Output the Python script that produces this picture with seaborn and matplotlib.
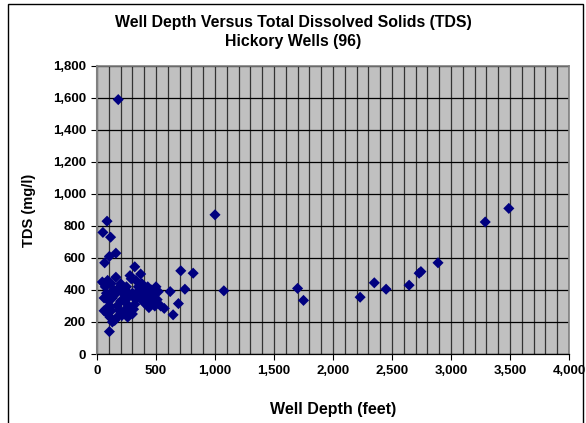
import matplotlib
matplotlib.use("Agg")
import matplotlib.pyplot as plt
import seaborn as sns
import pandas as pd
from matplotlib.ticker import MultipleLocator, FuncFormatter
from matplotlib.patches import Rectangle

depth = [180, 85, 50, 115, 160, 105, 65, 320, 370, 280, 160, 710, 815, 620, 745, 690, 645, 570, 105,
         1000, 1075, 1700, 1750, 2230, 2350, 2450, 2645, 2730, 2745, 2890, 3290, 3490,
         60, 70, 45, 90, 120, 140, 60, 80, 100, 110, 75, 60, 90, 110, 130, 150, 170, 190, 130, 150,
         170, 200, 220, 240, 260, 270, 280, 300, 310, 320, 330, 340, 350, 360, 380, 390, 400, 410,
         420, 430, 440, 450, 460, 470, 480, 490, 500, 510, 520, 540, 250, 230, 210, 180, 200, 290,
         330, 260, 380, 300, 440, 400, 230, 120]
tds = [1590, 830, 760, 730, 630, 610, 570, 545, 500, 490, 480, 520, 505, 390, 405, 315, 245, 285, 140,
       870, 395, 410, 335, 355, 445, 405, 430, 505, 515, 570, 825, 910,
       440, 420, 450, 460, 440, 400, 350, 380, 330, 300, 280, 270, 250, 230, 200, 210, 230, 270, 350, 370,
       300, 330, 380, 400, 350, 300, 260, 250, 280, 310, 340, 380, 420, 400, 360, 330, 390, 410,
       370, 420, 350, 380, 400, 330, 360, 300, 420, 340, 390, 300, 420, 270, 240, 410, 440, 470,
       460, 230, 440, 380, 290, 320, 330, 270]

title = "Well Depth Versus Total Dissolved Solids (TDS)\nHickory Wells (96)"
xlabel = "Well Depth (feet)"
ylabel = "TDS (mg/l)"

df = pd.DataFrame({"depth": depth, "tds": tds})

sns.set_theme(style="white")
plt.rcParams['font.family'] = ['Liberation Sans', 'DejaVu Sans']
plt.rcParams['text.color'] = 'black'
plt.rcParams['axes.labelcolor'] = 'black'
plt.rcParams['xtick.color'] = 'black'
plt.rcParams['ytick.color'] = 'black'

fig = plt.figure(figsize=(5.86, 4.23), dpi=100)
ax = fig.add_axes([97/586, 1 - 354/423, (569 - 97)/586, (354 - 66)/423])
ax.set_facecolor("#C0C0C0")

ax.set_xlim(0, 4000)
ax.set_ylim(0, 1800)
ax.xaxis.set_major_locator(MultipleLocator(500))
ax.xaxis.set_minor_locator(MultipleLocator(100))
ax.yaxis.set_major_locator(MultipleLocator(200))
ax.grid(True, which="minor", axis="x", color="#333333", linewidth=0.9)
ax.grid(True, which="major", axis="x", color="#333333", linewidth=0.9)
ax.grid(True, which="major", axis="y", color="black", linewidth=0.9)
ax.set_axisbelow(True)

sns.scatterplot(data=df, x="depth", y="tds", marker="D", s=32, color="#000080",
                edgecolor="none", linewidth=0, ax=ax, zorder=3, clip_on=False)

fmt = FuncFormatter(lambda v, p: f"{int(v):,}")
ax.xaxis.set_major_formatter(fmt)
ax.yaxis.set_major_formatter(fmt)
ax.tick_params(axis="both", which="major", direction="out", length=4, width=0.8,
               color="black", labelcolor="black", labelsize=9.5, pad=4, bottom=True, left=True)
ax.tick_params(axis="x", which="minor", length=0)
for lab in ax.get_xticklabels() + ax.get_yticklabels():
    lab.set_fontweight("bold")

for s in ["top", "right"]:
    ax.spines[s].set_color("#808080")
    ax.spines[s].set_linewidth(1.2)
ax.spines["left"].set_color("#808080")
ax.spines["left"].set_linewidth(1.5)
ax.spines["bottom"].set_color("black")
ax.spines["bottom"].set_linewidth(0.9)

ax.set_xlabel(xlabel, fontsize=11.5, fontweight="bold", color="black")
ax.set_ylabel(ylabel, fontsize=10.5, fontweight="bold", color="black")
ax.xaxis.set_label_coords(0.5, (354 - 409) / 288)
ax.xaxis.label.set_va("center")
ax.yaxis.set_label_coords((29 - 97) / 472, 0.5)
ax.yaxis.label.set_va("center")

fig.text(0.5, 1 - 32/423, title, ha="center", va="center", fontsize=11.4,
         fontweight="bold", linespacing=1.4, color="black")

fig.patches.append(Rectangle((8/586, -0.01), (583 - 8)/586, 1 - 4/423 + 0.01,
                             transform=fig.transFigure, fill=False,
                             edgecolor="black", linewidth=1.0))

fig.savefig("out.png", dpi=100, facecolor="white")
